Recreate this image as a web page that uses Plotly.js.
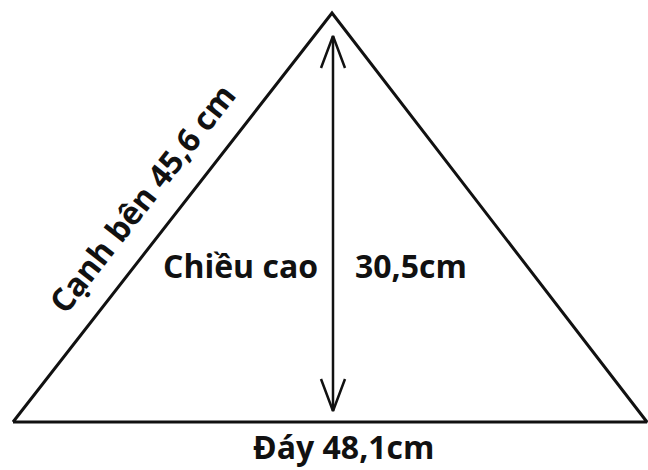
<!DOCTYPE html>
<html><head><meta charset="utf-8">
<script src="https://cdn.plot.ly/plotly-3.0.1.min.js"></script>
<style>html,body{margin:0;padding:0;background:#fff}#c{width:648px;height:470px}</style>
</head><body><div id="c"></div>
<script>
// Triangle vertices (diagram coordinates)
const triX = [13, 332, 647, 13];
const triY = [422, 13, 422, 422];
// Height arrow
const heightX = [333, 333];
const heightY = [36, 411];
const headTopX = [321, 333, 345];
const headTopY = [68, 36, 68];
const headBotX = [321, 333, 345];
const headBotY = [379, 411, 379];
// Labels
const labels = ["Cạnh bên 45,6 cm", "Chiều cao", "30,5cm", "Đáy 48,1cm"];
const labelX = [141, 240, 411, 343];
const labelY = [198, 265, 265, 446];
const labelAngle = [-52, 0, 0, 0];
const labelSize = [32, 32, 32, 32];

const ln = (x, y, w) => ({x, y, mode: 'lines', line: {color: '#111', width: w}, hoverinfo: 'skip', showlegend: false});
const data = [
  ln(triX, triY, 3),
  ln(heightX, heightY, 2.5),
  ln(headTopX, headTopY, 2.5),
  ln(headBotX, headBotY, 2.5)
];
const annotations = labels.map((t, i) => ({
  x: labelX[i], y: labelY[i], xref: 'x', yref: 'y', text: t, showarrow: false,
  textangle: labelAngle[i], font: {family: 'Open Sans', size: labelSize[i], color: '#111', weight: 700},
  xanchor: 'center', yanchor: 'middle', borderpad: 0
}));
const layout = {
  width: 648, height: 470, margin: {l: 0, r: 0, t: 0, b: 0},
  paper_bgcolor: '#fff', plot_bgcolor: '#fff',
  xaxis: {range: [0, 648], visible: false, fixedrange: true},
  yaxis: {range: [470, 0], visible: false, fixedrange: true},
  annotations
};
Plotly.newPlot('c', data, layout, {staticPlot: true, displayModeBar: false});
</script></body></html>
